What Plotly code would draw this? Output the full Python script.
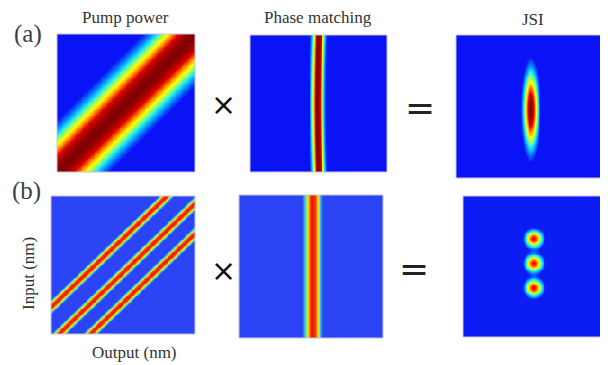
import numpy as np
import plotly.graph_objects as go

# the page body adds an 8px margin, so the figure is drawn 8px smaller and all
# pixel positions below are given in page pixels and shifted by OFF
OFF = 8
W, H = 608 - OFF, 365 - OFF

# ---- text content ----
titles = ["Pump power", "Phase matching", "JSI"]
row_labels = ["(a)", "(b)"]
y_label = "Input (nm)"
x_label = "Output (nm)"
operators = ["×", "="]

# ---- panel data parameters (normalized 0..1: x = output, y = input) ----
pump_a_offsets = [0.0]
pump_a_sigma = [0.20]
phase_a_center = [0.49]
phase_a_sigma = [0.032]
phase_a_bend = [0.008]
jsi_a_center = [0.51, 0.48]
jsi_a_sigma = [0.036, 0.195]

pump_b_offsets = [0.20, -0.05, -0.27]
pump_b_sigma = [0.032]
phase_b_center = [0.51]
phase_b_sigma = [0.04]
jsi_b_x = [0.49, 0.49, 0.49]
jsi_b_y = [0.70, 0.525, 0.35]
jsi_b_sigma = [0.042]

N = 160
g = np.linspace(0, 1, N)
X, Y = np.meshgrid(g, g)

def gauss(d, s):
    return np.exp(-0.5 * (d / s) ** 2)

z_pump_a = sum(gauss(Y - X - c, pump_a_sigma[0]) for c in pump_a_offsets)
z_phase_a = gauss(X - (phase_a_center[0] + phase_a_bend[0] * (Y - 0.5) ** 2 * 4), phase_a_sigma[0])
z_jsi_a = gauss(X - jsi_a_center[0], jsi_a_sigma[0]) * gauss(Y - jsi_a_center[1], jsi_a_sigma[1])
z_pump_b = sum(gauss(Y - X - c, pump_b_sigma[0]) for c in pump_b_offsets)
z_phase_b = gauss(X - phase_b_center[0], phase_b_sigma[0])
z_jsi_b = sum(gauss(np.hypot(X - cx, Y - cy), jsi_b_sigma[0]) for cx, cy in zip(jsi_b_x, jsi_b_y))

cs_a = [[0.0, "#0a12f6"], [0.16, "#0a12f6"], [0.3, "#0a9cff"], [0.4, "#20f0f0"],
        [0.5, "#a0ff60"], [0.6, "#ffff00"], [0.72, "#ff8800"], [0.84, "#e00000"],
        [0.95, "#a00000"], [1.0, "#800000"]]
cs_b = [[0.0, "#2b45f6"], [0.2, "#2b45f6"], [0.35, "#38a8f0"], [0.45, "#40e0c0"],
        [0.6, "#b8f040"], [0.72, "#ffd000"], [0.86, "#ff5010"], [1.0, "#e82000"]]
cs_jb = [[0.0, "#0c1cf4"], [0.16, "#0c1cf4"], [0.3, "#0a9cff"], [0.42, "#20f0f0"],
         [0.55, "#80ff80"], [0.68, "#ffff00"], [0.82, "#ff8800"], [1.0, "#e80000"]]

# panel boxes in page pixels: (left, top, right, bottom)
boxes = [(57, 34, 195, 172), (250, 35, 387, 172), (456, 35, 602, 178),
         (51, 196, 195, 334), (239, 195, 383, 338), (463, 196, 607, 337)]
zs = [z_pump_a, z_phase_a, z_jsi_a, z_pump_b, z_phase_b, z_jsi_b]
css = [cs_a, cs_a, cs_a, cs_b, cs_b, cs_jb]

def px(x):
    return (x - OFF) / W

def py(y):
    return 1 - (y - OFF) / H

fig = go.Figure()
layout = dict(width=W, height=H, margin=dict(l=0, r=0, t=0, b=0),
              paper_bgcolor="white", plot_bgcolor="white", showlegend=False)
shapes = []
for i, (box, z, cs) in enumerate(zip(boxes, zs, css)):
    k = "" if i == 0 else str(i + 1)
    l, t, r, b = box
    fig.add_trace(go.Heatmap(z=z, x=g, y=g, colorscale=cs, zmin=0, zmax=1,
                             showscale=False, zsmooth="best", hoverinfo="skip",
                             xaxis="x" + k, yaxis="y" + k))
    layout["xaxis" + k] = dict(domain=[px(l), min(px(r), 1)], visible=False, anchor="y" + k)
    layout["yaxis" + k] = dict(domain=[py(b), py(t)], visible=False, anchor="x" + k)
    shapes.append(dict(type="rect", xref="paper", yref="paper",
                       x0=px(l), x1=min(px(r), 1), y0=py(b), y1=py(t),
                       line=dict(color="#c4c4dc", width=1)))

serif = "Liberation Serif"
ann = []
def txt(s, x, y, size, font=serif, angle=0, color="#333333"):
    ann.append(dict(text=s, x=px(x), y=py(y), xref="paper", yref="paper",
                    showarrow=False, xanchor="center", yanchor="middle",
                    textangle=angle, font=dict(family=font, size=size, color=color)))

txt(titles[0], 125, 17, 17)
txt(titles[1], 318, 17, 17)
txt(titles[2], 533, 19, 17)
txt(row_labels[0], 28, 34, 25, color="#3a3f4a")
txt(row_labels[1], 26, 191, 25, color="#3a3f4a")
txt(y_label, 28, 274, 17, angle=-90)
txt(x_label, 134, 352, 17)
txt(operators[0], 223, 105, 30, font="DejaVu Sans", color="#111111")
txt(operators[0], 223, 270, 30, font="DejaVu Sans", color="#111111")
txt(operators[1], 420, 107, 36, font="DejaVu Sans", color="#222222")
txt(operators[1], 414, 268, 36, font="DejaVu Sans", color="#222222")

layout["annotations"] = ann
layout["shapes"] = shapes
fig.update_layout(**layout)
fig.write_html("out.html")
